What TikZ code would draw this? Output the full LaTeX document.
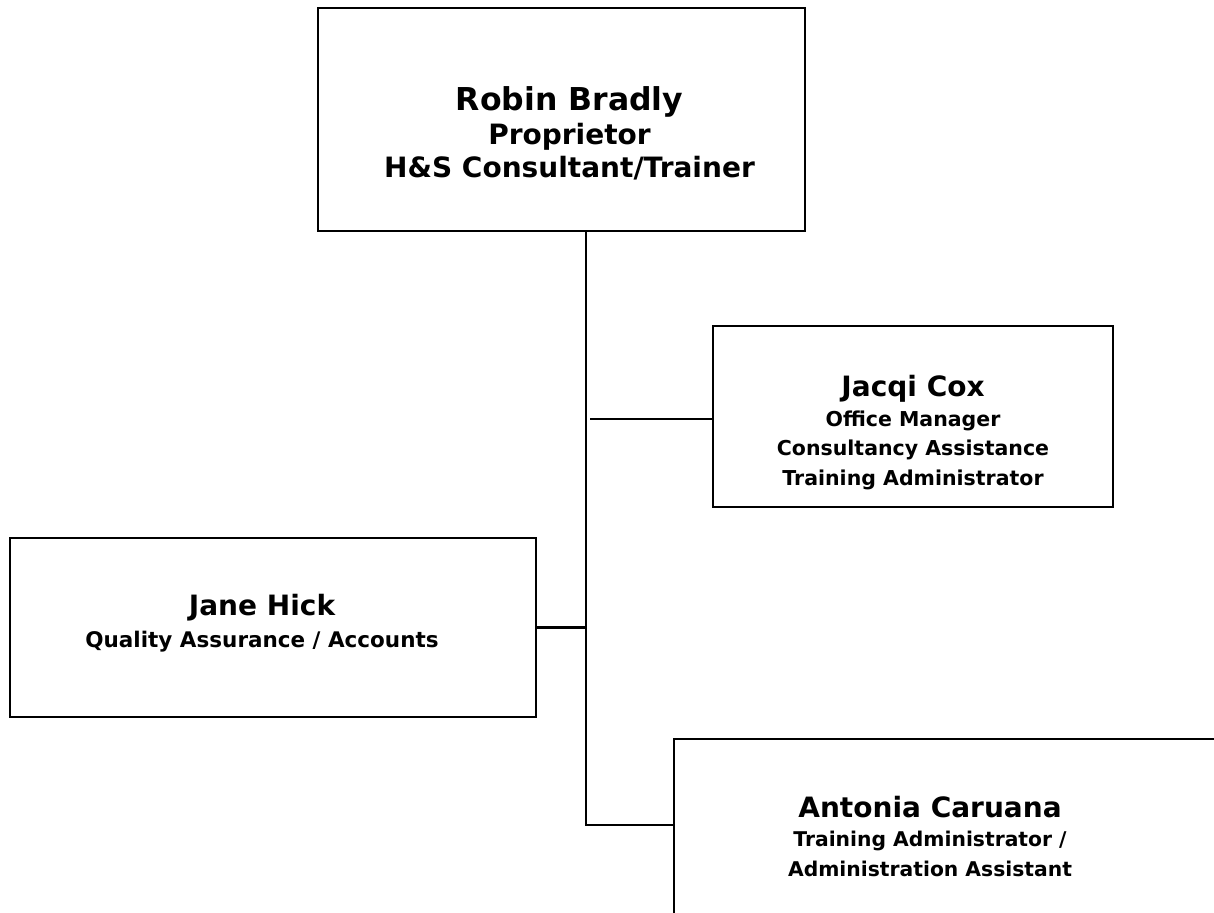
\documentclass[tikz,border=0pt]{standalone}
\usepackage{fontspec}
\setmainfont{DejaVu Sans}
\usetikzlibrary{positioning}
\newcommand{\namefont}{\fontsize{28}{34}\selectfont}
\newcommand{\rolefont}{\fontsize{20.5}{29.5}\selectfont}

\tikzset{
  box/.style={draw, line width=1.6pt, inner sep=0pt},
  conn/.style={line width=2.2pt},
  label/.style={inner sep=0pt, align=center, font=\bfseries\rolefont}
}

\begin{document}
\begin{tikzpicture}[x=1pt, y=-1pt]
  \useasboundingbox (0,0) rectangle (1214,912);
  \clip (0,0) rectangle (1214,912);

  % Proprietor box
  \node[box, minimum width=487pt, minimum height=223pt] (robin) at (561.5,119.5) {};
  \node[label, font=\bfseries\fontsize{28}{33.5}\selectfont] (robintxt) at ([xshift=8pt, yshift=-14pt]robin.center)
    {{\fontsize{31.5}{34}\selectfont Robin Bradly}\\ Proprietor\\ H\&S Consultant/Trainer};

  % Office manager box
  \node[box, minimum width=400pt, minimum height=181pt] (jacqi) at (913,416.5) {};
  \node[label] (jacqitxt) at ([yshift=-16pt]jacqi.center)
    {{\namefont Jacqi Cox}\\ Office Manager\\ Consultancy Assistance\\ Training Administrator};

  % Quality assurance box
  \node[label, font=\bfseries\fontsize{21.5}{32}\selectfont] (janetxt) at (262,623)
    {{\namefont Jane Hick}\\ Quality Assurance / Accounts};
  \node[box, minimum width=526pt, minimum height=179pt] (jane) at (273,627.5) {};

  % Training administrator box, runs off the page
  \node[box, anchor=north west, minimum width=600pt, minimum height=230pt] (antonia) at (673,738) {};
  \node[label, font=\bfseries\fontsize{20.3}{29.5}\selectfont] (antoniatxt) at (930,836)
    {{\namefont Antonia Caruana}\\ Training Administrator /\\ Administration Assistant};

  % Connectors
  \coordinate (trunk) at ([xshift=24.5pt]robin.south);
  \coordinate (bend) at (586,825);
  \coordinate (jacqijoin) at (590,419);
  \draw[conn] (trunk) -- (bend) -- (bend -| antonia.west);
  \draw[conn] (jacqijoin) -- (jacqijoin -| jacqi.west);
  \draw[conn] (jane.east) -- (jane.east -| trunk);
\end{tikzpicture}
\end{document}
